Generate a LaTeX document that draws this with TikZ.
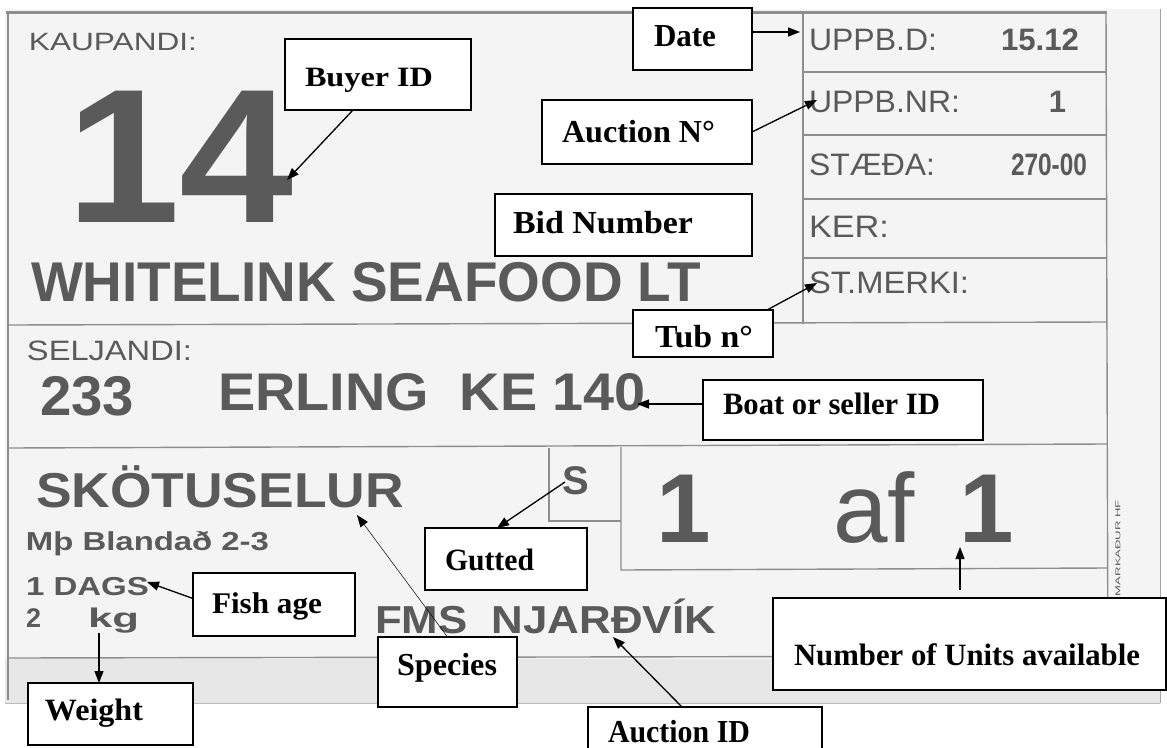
\documentclass[tikz,border=0pt]{standalone}
\usepackage{fontspec}
\setmainfont{Liberation Serif}
\newfontfamily\arialf{Liberation Sans}
\usepackage{graphicx}
\usetikzlibrary{arrows.meta,calc}
\definecolor{ink}{HTML}{5A5A5A}
\definecolor{rulec}{HTML}{8E8E8E}
\definecolor{paper}{HTML}{F4F4F4}
\definecolor{band}{HTML}{E7E7E7}
\newlength\fitlen
\newcommand\fitw[3]{\fontsize{#2}{#2}\selectfont\settowidth\fitlen{#3}\pgfmathsetmacro\fitsc{#1/\fitlen}\scalebox{\fitsc}[1]{#3}}
\begin{document}
\begin{tikzpicture}[x=1pt,y=-1pt,
  lbl/.style={font=\arialf, text=ink, anchor=base west, inner sep=0pt, outer sep=0pt},
  anntext/.style={font=\bfseries, text=black, anchor=base west, inner sep=0pt, outer sep=0pt},
  annbox/.style={draw=black, fill=white, line width=1.3pt, inner sep=0pt, outer sep=0pt},
  arr/.style={-{Triangle[length=12pt,width=9pt]}, line width=1.3pt, draw=black},
  thinarr/.style={-{Triangle[length=12pt,width=9pt]}, line width=0.5pt, draw=black},
  rulel/.style={draw=rulec, line width=1.4pt}]
\useasboundingbox (0,0) rectangle (1167,747);
\clip (0,0) rectangle (1167,747);
\fill[white] (0,0) rectangle (1167,747);
% paper of the label
\fill[paper] (5,9) rectangle (1160,703);
\fill[band] (5,659) rectangle (1160,703);
\draw[draw=rulec!80, line width=0.8pt] (1160,9) -- (1160,703);
\draw[draw=rulec!60, line width=1pt] (5,703) -- (1160,703);
% frame
\draw[draw=rulec, line width=3pt] (6,12) -- (1107,12);
\draw[draw=rulec, line width=2pt] (8,12) -- (8,700);
\draw[rulel] (1106,12) -- (1108,690);
% right column
\draw[rulel] (803,12) -- (803,324);
\draw[rulel] (803,72) -- (1106,72);
\draw[rulel] (803,135) -- (1106,135);
\draw[rulel] (803,199) -- (1107,199);
\draw[rulel] (803,258) -- (1107,258);
% section lines
\draw[rulel] (8,325) -- (1107,322);
\draw[rulel] (8,448) -- (1107,444);
\draw[rulel] (549,448) -- (549,521) -- (621,521);
\draw[rulel] (621,447) -- (621,570) -- (1107,568);
\draw[rulel] (8,658) -- (1108,656);

% label texts
\node[lbl] (kaup) at (29,50) {\fitw{168}{25}{KAUPANDI:}};
\node[lbl] (n14) at (66,222) {\fitw{228}{191}{\bfseries 14}};
\node[lbl] (white) at (31,301) {\fitw{670}{56}{\bfseries WHITELINK SEAFOOD LT}};
\node[lbl] (selj) at (27,360) {\fitw{165}{28}{SELJANDI:}};
\node[lbl] (n233) at (40,415) {\fitw{94}{56}{\bfseries 233}};
\node[lbl] (erling) at (218,410) {\fitw{428}{53}{\bfseries ERLING\ \ KE 140}};
\node[lbl] (skot) at (36,507) {\fitw{368}{49}{\bfseries SKÖTUSELUR}};
\node[lbl] (blanda) at (26,550) {\fitw{243}{26}{\bfseries Mþ Blandað 2-3}};
\node[lbl] (dags) at (26,595) {\fitw{123}{26}{\bfseries 1 DAGS}};
\node[lbl] (two) at (26,627) {\fontsize{27}{27}\selectfont\bfseries 2};
\node[lbl] (kg) at (88,627) {\fitw{51}{27}{\bfseries kg}};
\node[lbl] (fms) at (375,633) {\fitw{341}{39}{\bfseries FMS\ \ NJARÐVÍK}};
\node[lbl] (sgut) at (562,494) {\fontsize{40}{40}\selectfont\bfseries S};
\node[lbl] (onea) at (656,542) {\fontsize{98}{98}\selectfont\bfseries 1};
\node[lbl] (af) at (833,542) {\fontsize{98}{98}\selectfont af};
\node[lbl] (oneb) at (959,542) {\fontsize{98}{98}\selectfont\bfseries 1};
\node[lbl] (uppbd) at (809,50) {\fitw{128}{31}{UPPB.D:}};
\node[lbl] (date1512) at (1001,50) {\fitw{78}{31}{\bfseries 15.12}};
\node[lbl] (uppbnr) at (809,112) {\fitw{151}{31}{UPPB.NR:}};
\node[lbl, anchor=base east] (nr1) at (1066,112) {\fontsize{31}{31}\selectfont\bfseries 1};
\node[lbl] (staeda) at (809,175) {\fitw{126}{31}{STÆÐA:}};
\node[lbl] (n270) at (1011,175) {\fitw{76}{31}{\bfseries 270-00}};
\node[lbl] (ker) at (809,237) {\fitw{80}{31}{KER:}};
\node[lbl] (stmerki) at (809,293) {\fitw{160}{31}{ST.MERKI:}};
\node[lbl, anchor=center, rotate=90] (mark) at (1118,548) {\fitw{96}{7}{MARKAÐUR HF}};

% annotation boxes
\node[annbox, minimum width=186pt, minimum height=71pt] (buyer) at (378,74.5) {};
\node[annbox, minimum width=119pt, minimum height=62pt] (date) at (692.5,39) {};
\node[annbox, minimum width=210pt, minimum height=64pt] (aucn) at (647,132) {};
\node[annbox, minimum width=257pt, minimum height=62pt] (bid) at (623.5,225) {};
\node[annbox, minimum width=140pt, minimum height=47pt] (tub) at (703,333.5) {};
\node[annbox, minimum width=280pt, minimum height=60pt] (boat) at (843,410) {};
\node[annbox, minimum width=162pt, minimum height=63pt] (fish) at (274,604.5) {};
\node[annbox, minimum width=165pt, minimum height=62pt] (weight) at (110.5,714) {};
\node[annbox, minimum width=139pt, minimum height=70pt] (species) at (447.5,672) {};
\node[annbox, minimum width=162pt, minimum height=62pt] (gutted) at (506,559) {};
\node[annbox, minimum width=234pt, minimum height=83pt] (aucid) at (705,748.5) {};
\node[annbox, minimum width=393pt, minimum height=92pt] (units) at (969.5,644) {};

% annotation texts
\node[anntext] (buyerT) at (305,86) {\fitw{128}{28}{Buyer ID}};
\node[anntext] (dateT) at (654,46) {\fitw{62}{32}{Date}};
\node[anntext] (aucnT) at (562,142) {\fitw{153}{32}{Auction N°}};
\node[anntext] (bidT) at (513,233) {\fitw{180}{32}{Bid Number}};
\node[anntext] (tubT) at (655,347) {\fitw{98}{32}{Tub n°}};
\node[anntext] (boatT) at (723,414) {\fitw{217}{31}{Boat or seller ID}};
\node[anntext] (fishT) at (212,613) {\fitw{110}{30}{Fish age}};
\node[anntext] (weightT) at (45,720) {\fitw{98}{31}{Weight}};
\node[anntext] (speciesT) at (397,675) {\fitw{100}{32}{Species}};
\node[anntext] (guttedT) at (445,570) {\fitw{89}{31}{Gutted}};
\node[anntext] (aucidT) at (608,742) {\fitw{142}{32}{Auction ID}};
\node[anntext] (unitsT) at (794,665) {\fitw{346}{31}{Number of Units available}};

% arrow end points on the label
\coordinate (p14) at (287,180);
\coordinate (pdate) at (800,32);
\coordinate (pnr) at (817,100);
\coordinate (pmerki) at (817,283);
\coordinate (p140) at (637,404);
\coordinate (pdags) at (147,582);
\coordinate (pkg) at (99,633);
\coordinate (pskot) at (357,515);
\coordinate (ps) at (565,482);
\coordinate (pnjar) at (613,637);
\coordinate (paf) at (960,547);

% connectors
\draw[arr] ([xshift=-25pt]buyer.south) -- (p14);
\draw[arr] ([yshift=7pt]date.east) -- (pdate);
\draw[arr] (aucn.east) -- (pnr);
\draw[arr] ([xshift=-6pt]tub.north east) -- (pmerki);
\draw[arr] ([yshift=6pt]boat.west) -- (p140);
\draw[arr] ([yshift=6pt]fish.west) -- (pdags);
\draw[arr] (pkg) -- ([xshift=-11.5pt]weight.north);
\draw[thinarr] (species.north) -- (pskot);
\draw[arr] (ps) -- ([xshift=-9pt]gutted.north);
\draw[arr] ([xshift=-23pt]aucid.north) -- (pnjar);
\draw[arr] ([xshift=-9.5pt,yshift=8pt]units.north) -- (paf);
\end{tikzpicture}
\end{document}
